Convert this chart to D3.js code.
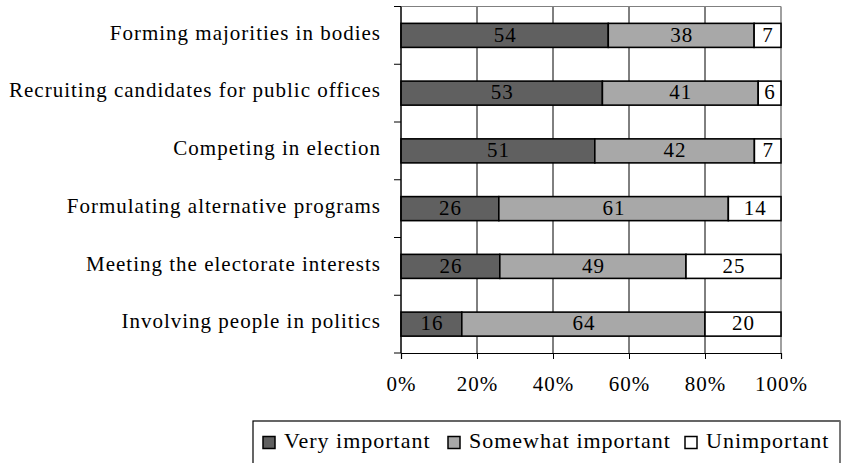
<!DOCTYPE html>
<html>
<head>
<meta charset="utf-8">
<script src="https://cdn.jsdelivr.net/npm/d3@7"></script>
<style>
  body { margin: 0; background: #fff; }
</style>
</head>
<body>
<svg id="mainsvg" width="841" height="463"></svg>
<script>
// data
const categories = [
    'Forming majorities in bodies',
    'Recruiting candidates for public offices',
    'Competing in election',
    'Formulating alternative programs',
    'Meeting the electorate interests',
    'Involving people in politics'
];
const veryImportant = [54, 53, 51, 26, 26, 16];
const somewhatImportant = [38, 41, 42, 61, 49, 64];
const unimportant = [7, 6, 7, 14, 25, 20];
const seriesNames = ['Very important', 'Somewhat important', 'Unimportant'];
const seriesColors = ['#606060', '#a8a8a8', '#ffffff'];
const xTicks = [0, 20, 40, 60, 80, 100];

const svg = d3.select('#mainsvg');
const margin = { top: 6.5, left: 401 };
const innerWidth = 781 - margin.left;
const innerHeight = 353 - margin.top;

// helper so every text gets the serif face
const setFont = (sel, size) => sel.style('font-family', 'Liberation Serif').style('font-size', size + 'px')
    .style('letter-spacing', '1px').attr('fill', '#000');

const g = svg.append('g').attr('transform', `translate(${margin.left}, ${margin.top})`);

const xScale = d3.scaleLinear().domain([0, 100]).range([0, innerWidth]);
const yScale = d3.scaleBand().domain(categories).range([0, innerHeight]).paddingInner(0.584).paddingOuter(0.292);
const bandScale = d3.scaleBand().domain(categories).range([0, innerHeight]);

// gridlines + plot frame (top / right are grey)
g.selectAll('.grid').data(xTicks).enter().append('line')
    .attr('x1', d => xScale(d)).attr('x2', d => xScale(d))
    .attr('y1', 0).attr('y2', innerHeight)
    .attr('stroke', d => d === 100 ? '#808080' : '#000').attr('stroke-width', d => d === 100 ? 1.5 : 1);
g.append('line').attr('x1', 0).attr('x2', innerWidth).attr('y1', 0).attr('y2', 0)
    .attr('stroke', '#808080').attr('stroke-width', 1.2);

// stacked bars (percent stacked: each row scaled to its own total)
const rows = categories.map((c, i) => ({ cat: c, vals: [veryImportant[i], somewhatImportant[i], unimportant[i]] }));
const segs = [];
rows.forEach(r => {
    const total = d3.sum(r.vals);
    let acc = 0;
    r.vals.forEach((v, k) => {
        segs.push({ cat: r.cat, k: k, x0: acc / total * 100, x1: (acc + v) / total * 100, v: v });
        acc += v;
    });
});
g.selectAll('.bar').data(segs).enter().append('rect')
    .attr('x', d => xScale(d.x0))
    .attr('y', d => yScale(d.cat))
    .attr('width', d => xScale(d.x1) - xScale(d.x0))
    .attr('height', yScale.bandwidth())
    .attr('fill', d => seriesColors[d.k])
    .attr('stroke', '#000').attr('stroke-width', 1.6);
g.selectAll('.lbl').data(segs).enter().append('text')
    .attr('x', d => xScale((d.x0 + d.x1) / 2) + 0.5)
    .attr('y', d => yScale(d.cat) + yScale.bandwidth() / 2)
    .attr('dy', '0.3em')
    .attr('text-anchor', 'middle')
    .call(setFont, 21)
    .text(d => d.v);

// left axis: ticks at band boundaries, labels centred in band
const yAxisG = g.append('g');
yAxisG.append('line').attr('x1', 0).attr('x2', 0).attr('y1', 0).attr('y2', innerHeight).attr('stroke', '#000');
const bounds = d3.range(categories.length + 1).map(i => i * bandScale.step());
yAxisG.selectAll('.yt').data(bounds).enter().append('line')
    .attr('x1', -7).attr('x2', 0).attr('y1', d => d).attr('y2', d => d).attr('stroke', '#000');
yAxisG.selectAll('.yl').data(categories).enter().append('text')
    .attr('x', -20)
    .attr('y', d => yScale(d) + yScale.bandwidth() / 2)
    .attr('dy', '0.2em')
    .attr('text-anchor', 'end')
    .call(setFont, 21)
    .text(d => d);

// bottom axis
const xAxis = d3.axisBottom(xScale).tickValues(xTicks).tickSize(6).tickPadding(17).tickFormat(d => d + '%');
const xAxisG = g.append('g').attr('transform', `translate(0, ${innerHeight})`).call(xAxis);
xAxisG.select('.domain').attr('stroke', '#000').attr('stroke-width', 1.2);
xAxisG.selectAll('.tick line').attr('stroke', '#000');
xAxisG.selectAll('text').call(setFont, 21);

// legend
const legend = svg.append('g').attr('transform', 'translate(253, 421)');
legend.append('rect').attr('x', 0).attr('y', 0).attr('width', 587).attr('height', 60)
    .attr('fill', '#fff').attr('stroke', '#000').attr('stroke-width', 1.2);
legend.append('line').attr('x1', 587).attr('x2', 587).attr('y1', 0).attr('y2', 60)
    .attr('stroke', '#808080').attr('stroke-width', 1.5);
const legX = [10, 195, 432];
seriesNames.forEach((name, i) => {
    legend.append('rect').attr('x', legX[i]).attr('y', 15.5).attr('width', 12).attr('height', 12)
        .attr('fill', seriesColors[i]).attr('stroke', '#000').attr('stroke-width', 1.5);
    legend.append('text').attr('x', legX[i] + 21).attr('y', 27)
        .call(setFont, 22)
        .text(name);
});
</script>
</body>
</html>
